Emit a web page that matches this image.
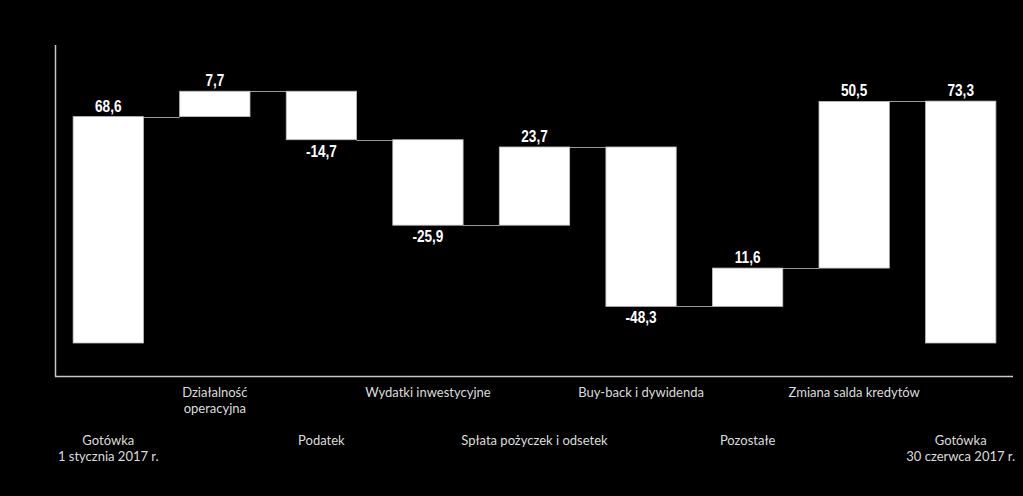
<!DOCTYPE html>
<html>
<head>
<meta charset="utf-8">
<script src="https://cdn.jsdelivr.net/npm/d3@7"></script>
<style>
  html, body { margin: 0; padding: 0; background: #000; }
  svg { display: block; }
  .val { font-family: "Liberation Sans", Arial, sans-serif; font-weight: bold; font-size: 16px; fill: #fff; }
  .cat { font-family: Lato, "Open Sans", sans-serif; font-size: 13px; fill: #dcdcdc; }
</style>
</head>
<body>
<div id="chart"></div>
<script>
// categories (two-line labels split with |)
var categories = [
  "Gotówka|1 stycznia 2017 r.",
  "Działalność|operacyjna",
  "Podatek",
  "Wydatki inwestycyjne",
  "Spłata pożyczek i odsetek",
  "Buy-back i dywidenda",
  "Pozostałe",
  "Zmiana salda kredytów",
  "Gotówka|30 czerwca 2017 r."
];
// change values (first and last are totals)
var values = [68.6, 7.7, -14.7, -25.9, 23.7, -48.3, 11.6, 50.5, 73.3];
var isTotal = [true, false, false, false, false, false, false, false, true];
var yDomain = [-10, 90];

var width = 1023,
  height = 496;

// build waterfall steps
var running = 0,
  steps = [];
values.forEach(function(v, i) {
  var start, end;
  if (isTotal[i]) {
    start = 0;
    end = v;
    running = v;
  } else {
    start = running;
    end = running + v;
    running = end;
  }
  steps.push({ cat: categories[i], value: v, start: start, end: end, i: i });
});

var x = d3
  .scaleBand()
  .domain(categories)
  .range([55, 1014])
  .paddingInner(0.34)
  .paddingOuter(0.17);

var y = d3
  .scaleLinear()
  .domain(yDomain)
  .range([376, 46]);

var svg = d3
  .select("#chart")
  .append("svg")
  .attr("width", width)
  .attr("height", height)
  .style("background", "#000");

// axes lines
svg
  .append("line")
  .attr("x1", 55.5)
  .attr("x2", 55.5)
  .attr("y1", y(yDomain[1]) - 1)
  .attr("y2", y(yDomain[0]) + 0.5)
  .attr("stroke", "#c8c8c8")
  .attr("stroke-width", 1.5);
svg
  .append("line")
  .attr("x1", 55)
  .attr("x2", 1013)
  .attr("y1", y(yDomain[0]) + 0.5)
  .attr("y2", y(yDomain[0]) + 0.5)
  .attr("stroke", "#c8c8c8")
  .attr("stroke-width", 1.5);

// connector lines
svg
  .selectAll(".conn")
  .data(steps.slice(0, -1))
  .enter()
  .append("line")
  .attr("class", "conn")
  .attr("x1", function(d) { return x(d.cat) + x.bandwidth(); })
  .attr("x2", function(d) { return x(categories[d.i + 1]); })
  .attr("y1", function(d) { return Math.round(y(d.end)) + 0.5; })
  .attr("y2", function(d) { return Math.round(y(d.end)) + 0.5; })
  .attr("stroke", "#9a9a9a")
  .attr("stroke-width", 1);

// bars
svg
  .selectAll(".bar")
  .data(steps)
  .enter()
  .append("rect")
  .attr("class", "bar")
  .attr("x", function(d) { return x(d.cat); })
  .attr("width", x.bandwidth())
  .attr("y", function(d) { return y(Math.max(d.start, d.end)); })
  .attr("height", function(d) { return Math.abs(y(d.start) - y(d.end)); })
  .attr("fill", "#fff")
  .attr("stroke", "#bdbdbd")
  .attr("stroke-width", 0.8);

// value labels (plain hyphen for negatives, comma decimal), squeezed to look narrow
svg
  .selectAll(".val")
  .data(steps)
  .enter()
  .append("text")
  .attr("class", "val")
  .attr("text-anchor", "middle")
  .attr("transform", function(d) {
    var cx = x(d.cat) + x.bandwidth() / 2;
    var cy = d.value >= 0 ? y(d.end) - 5 : y(d.end) + 17;
    return "translate(" + cx + "," + cy + ") scale(0.85,1)";
  })
  .text(function(d) { return d.value.toFixed(1).replace(".", ","); });

// category labels, staggered in two rows
var cats = svg
  .selectAll(".cat")
  .data(steps)
  .enter()
  .append("text")
  .attr("class", "cat")
  .attr("text-anchor", "middle")
  .attr("x", function(d) { return x(d.cat) + x.bandwidth() / 2; })
  .attr("y", function(d) { return d.i % 2 === 1 ? 397 : 445; });

cats
  .selectAll("tspan")
  .data(function(d) {
    return d.cat.split("|").map(function(t) {
      return { t: t, x: x(d.cat) + x.bandwidth() / 2 };
    });
  })
  .enter()
  .append("tspan")
  .attr("x", function(d) { return d.x; })
  .attr("dy", function(d, i) { return i === 0 ? 0 : 15.5; })
  .text(function(d) { return d.t; });
</script>
</body>
</html>
